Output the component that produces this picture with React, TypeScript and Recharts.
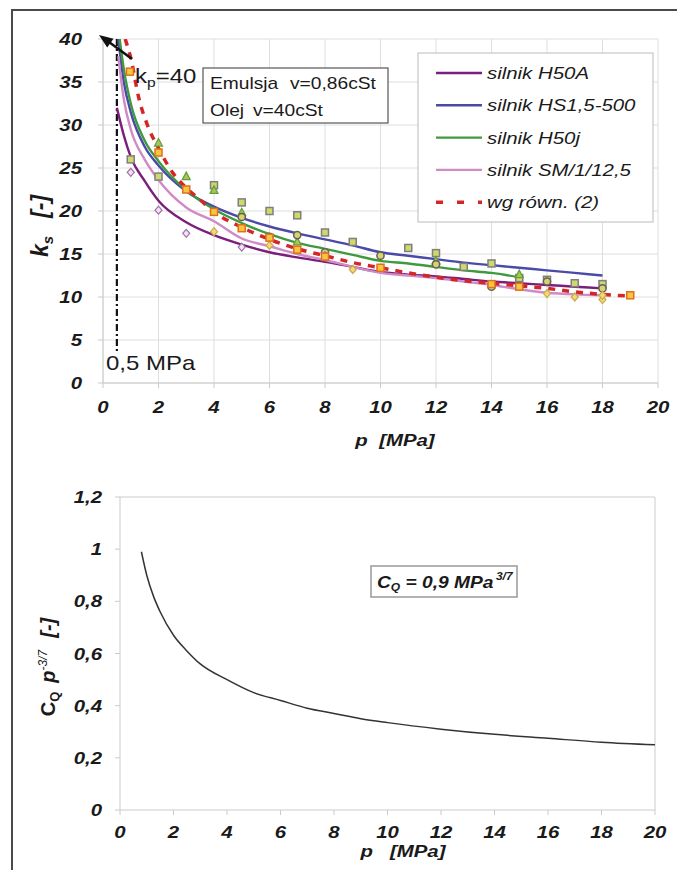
import React from 'react';
import { ComposedChart, Line, Scatter, XAxis, YAxis, CartesianGrid, ReferenceLine, Label } from 'recharts';

const FONT = '"Liberation Sans", Arial, Helvetica, sans-serif';
const SX = 1.2;

// ---------- data ----------
const pTicks = [0, 2, 4, 6, 8, 10, 12, 14, 16, 18, 20];
const ksTicks = [0, 5, 10, 15, 20, 25, 30, 35, 40];
const cqTicks = [0, 0.2, 0.4, 0.6, 0.8, 1, 1.2];

const seriesNames = ['silnik H50A', 'silnik HS1,5-500', 'silnik H50j', 'silnik SM/1/12,5', 'wg równ. (2)'];
const seriesColors = ['#7b1f7d', '#4a4aa8', '#3f9a3f', '#d08ac6', '#d42626'];

const h50a = [[0.5, 32], [0.75, 28.8], [1, 26.3], [1.5, 23.5], [2, 21.2], [3, 18.7], [4, 17.2], [5, 16.1], [6, 15.2], [7, 14.6], [8, 14.1], [9, 13.5], [10, 12.9], [11, 12.6], [12, 12.4], [13, 12.1], [14, 11.8], [15, 11.6], [16, 11.4], [17, 11.2], [18, 11.0]];
const hs15 = [[0.55, 40], [0.75, 35], [1, 31.5], [1.5, 27.5], [2, 25.3], [3, 22.3], [4, 20.5], [5, 19.2], [6, 18.2], [7, 17.4], [8, 16.7], [9, 16], [10, 15.2], [11, 14.8], [12, 14.4], [13, 14], [14, 13.7], [15, 13.4], [16, 13.1], [17, 12.8], [18, 12.5]];
const h50j = [[0.6, 40], [0.75, 36.5], [1, 32.5], [1.5, 28.2], [2, 25.8], [3, 22.4], [4, 20.2], [5, 18.6], [6, 17.3], [7, 16.3], [8, 15.6], [9, 14.9], [10, 14.2], [11, 13.9], [12, 13.5], [13, 13.1], [14, 12.8], [15, 12.3]];
const sm1 = [[0.55, 38], [0.75, 33], [1, 29.5], [1.5, 26], [2, 23.6], [3, 20.4], [4, 18.8], [5, 16.8], [6, 15.9], [7, 15], [8, 14.3], [9, 13.5], [10, 12.8], [11, 12.5], [12, 12.2], [13, 11.8], [14, 11.4], [15, 10.9], [16, 10.5], [17, 10.3], [18, 10.2]];
const eq2 = [[0.8, 40], [1, 37.8], [1.3, 33], [1.6, 30], [2, 27.3], [2.5, 24.5], [3, 22.7], [3.5, 21.3], [4, 19.9], [5, 18.1], [6, 16.7], [7, 15.6], [8, 14.8], [9, 14], [10, 13.4], [11, 12.8], [12, 12.3], [13, 11.9], [14, 11.6], [15, 11.3], [16, 11], [17, 10.6], [18, 10.3], [19, 10.1]];

const ptsHS = [[1, 26], [2, 24], [4, 23], [5, 21], [6, 20], [7, 19.5], [8, 17.5], [9, 16.4], [11, 15.7], [12, 15.1], [13, 13.5], [14, 13.9], [15, 12.2], [16, 12], [17, 11.6], [18, 11.5]];
const ptsTri = [[2, 27.9], [3, 24], [4, 22.4], [5, 19.8], [7, 16.4], [12, 14.2], [15, 12.6]];
const ptsOrange = [[0.97, 36.2], [2, 26.8], [3, 22.5], [4, 19.9], [5, 18], [6, 16.9], [7, 15.5], [8, 14.7], [10, 13.4], [14, 11.5], [15, 11.2], [19, 10.2]];
const ptsCircle = [[5, 19.3], [6, 17], [7, 17.2], [8, 15.2], [10, 14.8], [12, 13.8], [14, 11.2], [16, 11.8], [18, 11]];
const ptsDiamond = [[1, 24.5], [2, 20.1], [3, 17.4], [5, 15.8], [8, 14.8]];
const ptsYellow = [[4, 17.6], [6, 16], [9, 13.2], [16, 10.4], [17, 10], [18, 9.7], [18, 10.2]];

const cqP = [0.8, 1, 1.25, 1.5, 2, 2.5, 3, 4, 5, 6, 7, 8, 9, 10, 12, 14, 16, 18, 20];
const cqV = [0.99, 0.9, 0.82, 0.76, 0.67, 0.61, 0.56, 0.5, 0.45, 0.42, 0.39, 0.37, 0.35, 0.335, 0.31, 0.29, 0.275, 0.26, 0.25];

const toPts = (arr: number[][]) => arr.map(([p, k]) => ({ p, k }));
const cqData = cqP.map((p, i) => ({ p, k: cqV[i] }));
const curves = [h50a, hs15, h50j, sm1];

// ---------- helpers ----------
function SText(props: any) {
  const { x, y, size = 16, weight = 'normal', italic = false, anchor = 'start', fill = '#1a1a1a', children } = props;
  return (
    <text
      transform={`translate(${x} ${y}) scale(${SX} 1)`}
      fontSize={size}
      fontWeight={weight}
      fontStyle={italic ? 'italic' : 'normal'}
      textAnchor={anchor}
      fill={fill}
      fontFamily={FONT}
      style={{ whiteSpace: 'pre' }}
    >
      {children}
    </text>
  );
}

const fmt = (v: number) => String(v).replace('.', ',');

const XTick = (props: any) => (
  <SText x={props.x} y={props.y + 15} anchor="middle" size={17} weight="bold" italic>
    {fmt(props.payload.value)}
  </SText>
);
const YTick = (props: any) => (
  <SText x={props.x} y={props.y + 6} anchor="end" size={17} weight="bold" italic>
    {fmt(props.payload.value)}
  </SText>
);

const square = (fill: string, stroke: string) => (p: any) => (
  <rect x={p.cx - 3.5} y={p.cy - 3.5} width={7} height={7} fill={fill} stroke={stroke} strokeWidth={1.5} />
);
const triangle = (fill: string, stroke: string) => (p: any) => (
  <polygon points={`${p.cx},${p.cy - 4.5} ${p.cx + 4},${p.cy + 3} ${p.cx - 4},${p.cy + 3}`} fill={fill} stroke={stroke} strokeWidth={1.2} />
);
const circle = (fill: string, stroke: string) => (p: any) => (
  <circle cx={p.cx} cy={p.cy} r={3.6} fill={fill} stroke={stroke} strokeWidth={1.5} />
);
const diamond = (fill: string, stroke: string) => (p: any) => (
  <polygon points={`${p.cx},${p.cy - 4} ${p.cx + 3.5},${p.cy} ${p.cx},${p.cy + 4} ${p.cx - 3.5},${p.cy}`} fill={fill} stroke={stroke} strokeWidth={1.2} />
);

// titles (coordinates relative to each chart's own svg)
const topYTitle = () => (
  <text transform="translate(48 226) rotate(-90)" textAnchor="middle" fontFamily={FONT} fontWeight="bold" fontStyle="italic" fontSize={23} fill="#1a1a1a">
    k<tspan fontSize={15} dy={5}>s</tspan>
    <tspan dy={-5} dx={18}>[-]</tspan>
  </text>
);
const topXTitle = () => (
  <SText x={395} y={446} anchor="middle" size={17} weight="bold" italic>
    {'p  [MPa]'}
  </SText>
);
const botYTitle = () => (
  <text transform="translate(55 667) rotate(-90)" textAnchor="middle" fontFamily={FONT} fontWeight="bold" fontSize={20} fill="#1a1a1a" style={{ transform: 'translate(55px, 207px) rotate(-90deg)' }}>
    C<tspan fontSize={13} dy={4}>Q</tspan>
    <tspan dy={-4} dx={9} fontStyle="italic">p</tspan>
    <tspan fontSize={12} dy={-8} fontStyle="italic" fontWeight="normal">-3/7</tspan>
    <tspan dy={8} dx={12} fontStyle="italic">[-]</tspan>
  </text>
);
const botXTitle = () => (
  <SText x={403} y={397} anchor="middle" size={17} weight="bold" italic>
    {'p   [MPa]'}
  </SText>
);

const GRID = '#dedede';
const AXIS = '#cacaca';

export default function App() {
  return (
    <div style={{ position: 'absolute', left: 0, top: 0, width: 677, height: 870, background: '#fff', overflow: 'hidden', fontFamily: FONT }}>
      <div style={{ position: 'absolute', left: 11, top: 9, width: 700, height: 900, borderTop: '2px solid #4a4a4a', borderLeft: '2px solid #4a4a4a' }} />

      {/* top chart */}
      <div style={{ position: 'absolute', left: 0, top: 0 }}>
        <ComposedChart width={677} height={460} margin={{ top: 39, right: 19, left: 0, bottom: 47 }}>
          <CartesianGrid stroke={GRID} strokeWidth={1} />
          <XAxis type="number" dataKey="p" domain={[0, 20]} ticks={pTicks} interval={0} height={30}
            stroke={AXIS} tickSize={5} tickMargin={10} tick={XTick} allowDataOverflow>
            <Label content={topXTitle} />
          </XAxis>
          <YAxis type="number" dataKey="k" domain={[0, 40]} ticks={ksTicks} interval={0} width={103}
            stroke={AXIS} tickSize={5} tickMargin={16} tick={YTick} allowDataOverflow>
            <Label content={topYTitle} />
          </YAxis>
          <ReferenceLine segment={[{ x: 0.5, y: 40 }, { x: 0.5, y: 3.6 }]} stroke="#111" strokeWidth={2.2} strokeDasharray="7 3 2 3" />
          {curves.map((c, i) => (
            <Line key={seriesNames[i]} name={seriesNames[i]} data={toPts(c)} dataKey="k" type="monotone"
              stroke={seriesColors[i]} strokeWidth={2.4} dot={false} isAnimationActive={false} />
          ))}
          <Scatter data={toPts(ptsHS)} dataKey="k" shape={square('#cfd86a', '#7f7f7f')} isAnimationActive={false} />
          <Scatter data={toPts(ptsTri)} dataKey="k" shape={triangle('#9ccc50', '#6a9a40')} isAnimationActive={false} />
          <Scatter data={toPts(ptsCircle)} dataKey="k" shape={circle('#d9d36a', '#5f5f5f')} isAnimationActive={false} />
          <Scatter data={toPts(ptsDiamond)} dataKey="k" shape={diamond('#f2e2f2', '#a070a8')} isAnimationActive={false} />
          <Scatter data={toPts(ptsYellow)} dataKey="k" shape={diamond('#f3d873', '#c9a850')} isAnimationActive={false} />
          <Line name={seriesNames[4]} data={toPts(eq2)} dataKey="k" type="monotone" stroke={seriesColors[4]}
            strokeWidth={3.5} strokeDasharray="7 7" dot={false} isAnimationActive={false} />
          <Scatter data={toPts(ptsOrange)} dataKey="k" shape={square('#f7c640', '#e07020')} isAnimationActive={false} />
        </ComposedChart>
      </div>

      {/* bottom chart */}
      <div style={{ position: 'absolute', left: 0, top: 460 }}>
        <ComposedChart width={677} height={410} margin={{ top: 37, right: 22, left: 0, bottom: 30 }}>
          <XAxis type="number" dataKey="p" domain={[0, 20]} ticks={pTicks} interval={0} height={30}
            stroke={AXIS} tickSize={5} tickMargin={8} tick={XTick} allowDataOverflow>
            <Label content={botXTitle} />
          </XAxis>
          <YAxis type="number" dataKey="k" domain={[0, 1.2]} ticks={cqTicks} interval={0} width={120}
            stroke={AXIS} tickSize={5} tickMargin={13} tick={YTick} allowDataOverflow>
            <Label content={botYTitle} />
          </YAxis>
          <ReferenceLine y={1.2} stroke={GRID} strokeWidth={1.5} />
          <ReferenceLine x={20} stroke={GRID} strokeWidth={1.5} />
          <Line data={cqData} dataKey="k" type="monotone" stroke="#333" strokeWidth={1.5} dot={false} isAnimationActive={false} />
        </ComposedChart>
      </div>

      {/* annotations & legend */}
      <svg width={677} height={870} style={{ position: 'absolute', left: 0, top: 0, pointerEvents: 'none' }}>
        {/* arrow to k_p = 40 */}
        <line x1={132} y1={59} x2={109} y2={42} stroke="#111" strokeWidth={2.5} />
        <polygon points="99,35 113.5,38.8 107.2,47.4" fill="#111" />
        <text x={135} y={83} fontFamily={FONT} fontSize={20} fill="#1a1a1a" transform={`translate(${135 * (1 - SX)} 0) scale(${SX} 1)`}>
          k<tspan fontSize={13} dy={4}>p</tspan><tspan dy={-4}>=40</tspan>
        </text>
        <rect x={203} y={68} width={185} height={55} fill="#fff" stroke="#555" strokeWidth={1.2} />
        <SText x={210} y={89} size={16}>Emulsja</SText>
        <SText x={290} y={89} size={16}>v=0,86cSt</SText>
        <SText x={210} y={116} size={16}>Olej</SText>
        <SText x={253} y={116} size={16}>v=40cSt</SText>
        <SText x={106} y={370} size={20}>0,5 MPa</SText>

        {/* legend */}
        <rect x={418} y={53} width={235} height={169} fill="#fff" stroke="#bbb" strokeWidth={1} />
        {seriesNames.map((n, i) => {
          const y = 73 + i * 32.3;
          return (
            <g key={n}>
              <line x1={436} x2={482} y1={y} y2={y} stroke={seriesColors[i]}
                strokeWidth={i === 4 ? 3.5 : 2.4} strokeDasharray={i === 4 ? '7 14' : undefined} />
              <SText x={487} y={y + 6} size={17} italic>{n}</SText>
            </g>
          );
        })}

        {/* C_Q box */}
        <rect x={371} y={566} width={146} height={31} fill="#fff" stroke="#999" strokeWidth={1.5} />
        <text transform={`translate(377 588) scale(${SX} 1)`} fontFamily={FONT} fontSize={16} fontWeight="bold" fontStyle="italic" fill="#1a1a1a" style={{ whiteSpace: 'pre' }}>
          C<tspan fontSize={10} dy={3}>Q</tspan><tspan dy={-3}>{' = 0,9 MPa'}</tspan><tspan fontSize={10} dy={-8} dx={2}>3/7</tspan>
        </text>
      </svg>
    </div>
  );
}
